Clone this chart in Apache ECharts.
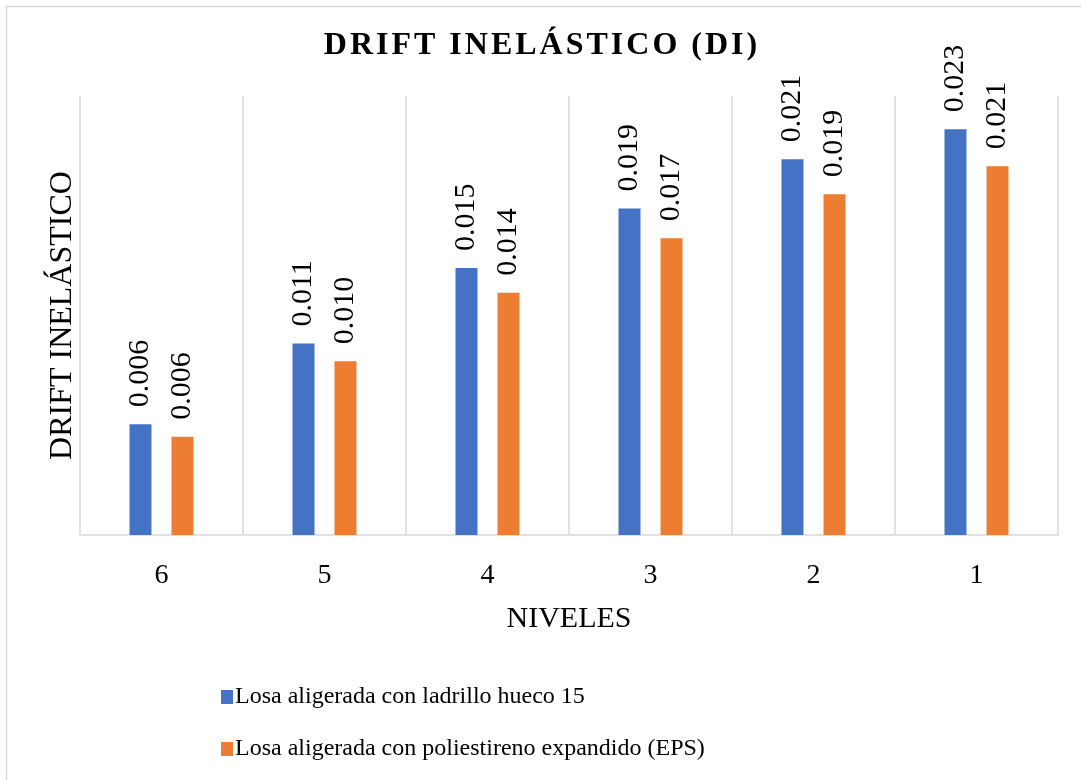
<!DOCTYPE html>
<html>
<head>
<meta charset="utf-8">
<script src="https://cdn.jsdelivr.net/npm/echarts@6/dist/echarts.min.js"></script>
<style>
html,body{margin:0;padding:0;background:#fff;}
#chart{width:1081px;height:780px;}
</style>
</head>
<body>
<div id="chart"></div>
<script>
const titleText = 'DRIFT INELÁSTICO (DI)';
const yAxisName = 'DRIFT INELÁSTICO';
const xAxisName = 'NIVELES';
const categories = ['6', '5', '4', '3', '2', '1'];
const seriesNames = ['Losa aligerada con ladrillo hueco 15', 'Losa aligerada con poliestireno expandido (EPS)'];
const ladrilloValues = [0.0063, 0.0109, 0.0152, 0.0186, 0.0214, 0.0231];
const epsValues = [0.0056, 0.0099, 0.0138, 0.0169, 0.0194, 0.0210];

const serif = "'Liberation Serif', 'Times New Roman', serif";
const chart = echarts.init(document.getElementById('chart'), null, {renderer: 'canvas'});

const richTitle = titleText.split('').map(c => '{s|' + c + '}').join('');

const labelCfg = {
  show: true,
  position: 'top',
  rotate: 90,
  align: 'left',
  verticalAlign: 'middle',
  distance: 17,
  color: '#000',
  fontFamily: serif,
  fontSize: 30,
  formatter: p => p.value.toFixed(3)
};

chart.setOption({
  backgroundColor: '#fff',
  animation: false,
  title: {
    text: richTitle,
    left: 'center',
    top: 25,
    textStyle: {
      rich: {
        s: {fontFamily: serif, fontWeight: 'bold', fontSize: 32, color: '#000', padding: [0, 1.5, 0, 1.5]}
      }
    }
  },
  graphic: [{
    type: 'rect',
    shape: {x: 6.5, y: 6.5, width: 1100, height: 800},
    style: {fill: 'none', stroke: '#d9d9d9', lineWidth: 1.5},
    silent: true
  }],
  legend: {
    orient: 'vertical',
    left: 216,
    top: 680,
    itemWidth: 12,
    itemHeight: 14,
    itemGap: 28,
    icon: 'rect',
    textStyle: {fontFamily: serif, fontSize: 24, color: '#000', padding: [0, 0, 0, -3]},
    data: seriesNames
  },
  grid: {left: 80, right: 23, top: 96, bottom: 245},
  xAxis: {
    type: 'category',
    data: categories,
    name: xAxisName,
    nameLocation: 'middle',
    nameGap: 69,
    nameTextStyle: {fontFamily: serif, fontSize: 30, color: '#000'},
    axisLine: {show: true, lineStyle: {color: '#d9d9d9', width: 1.5}},
    axisTick: {show: false},
    axisLabel: {fontFamily: serif, fontSize: 28, color: '#000', margin: 27},
    splitLine: {show: true, lineStyle: {color: '#d9d9d9', width: 1.5}}
  },
  yAxis: {
    type: 'value',
    min: 0,
    max: 0.025,
    interval: 0.005,
    name: yAxisName,
    nameLocation: 'middle',
    nameGap: 1,
    nameTextStyle: {fontFamily: serif, fontSize: 32, color: '#000'},
    axisLine: {show: false},
    axisTick: {show: false},
    axisLabel: {show: false},
    splitLine: {show: false}
  },
  series: [
    {
      name: seriesNames[0],
      type: 'bar',
      data: ladrilloValues,
      barWidth: 22,
      barGap: '91%',
      itemStyle: {color: '#4472C4'},
      label: labelCfg
    },
    {
      name: seriesNames[1],
      type: 'bar',
      data: epsValues,
      barWidth: 22,
      barGap: '91%',
      itemStyle: {color: '#ED7D31'},
      label: labelCfg
    }
  ]
});
</script>
</body>
</html>
